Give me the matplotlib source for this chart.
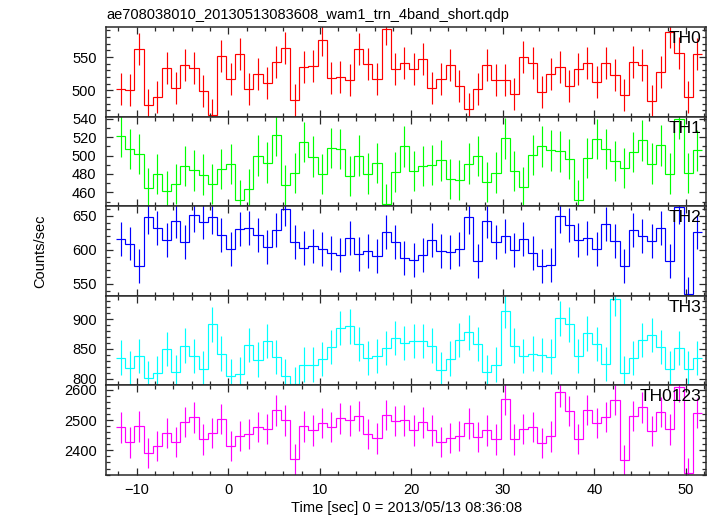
import numpy as np
import matplotlib
matplotlib.use("Agg")
import matplotlib.pyplot as plt
from matplotlib.ticker import MultipleLocator

plt.rcParams['font.family'] = ['Liberation Sans', 'DejaVu Sans']

# ---- data (1-s bins) ----
t_start = -12.25          # left edge of first bin [sec]
bin_width = 1.0

th0 = [501.5, 500.5, 561.5, 477.5, 489.5, 533, 503, 537.5, 533, 499, 463, 551.5,
       516.5, 554, 502, 524, 511, 542, 563, 485, 535, 536, 575, 519, 520.5, 515,
       561.5, 540, 516.5, 591.5, 532.5, 540.5, 532, 546.5, 503, 517.5, 538, 506.5,
       472, 502.5, 538, 515.5, 515, 495, 550.5, 540.5, 497.5, 525, 534.5, 506.5,
       532.5, 541.5, 512, 540.5, 522.5, 493, 543, 538, 484, 528, 588, 555.5, 490, 555]
th1 = [521, 507.2, 502, 464.6, 480, 461.3, 469.3, 488.4, 484, 479.4, 469, 485.2,
       491, 451.5, 463.5, 500, 492.4, 522, 467.8, 480.8, 515.2, 499, 480, 508.3,
       506.9, 477.6, 500, 480.5, 491.7, 447.2, 481.9, 510.1, 483, 488.8, 489.9,
       494.9, 474.3, 473.2, 491.3, 499.6, 471.4, 481.6, 518.8, 483, 465.6, 500.4,
       510.1, 505.8, 504.7, 496, 451.5, 497.5, 518.4, 506.9, 493.9, 486.3, 504,
       516.6, 491.3, 511.2, 480.5, 540.1, 480.8, 505.8]
th2 = [616.1, 609.3, 575.6, 648.8, 632.2, 614.6, 642.4, 611.7, 651.2, 641, 648.3,
       622.4, 601, 630.2, 632.2, 621.5, 604.4, 629.3, 660.5, 611.7, 602.9, 605.9,
       601.5, 594.6, 592.7, 617.6, 593.2, 599, 590.7, 626.3, 612.2, 588.3, 584.4,
       592.7, 614.6, 599, 596.6, 601.5, 647.8, 583.4, 642.4, 611.2, 620, 599.5,
       616.1, 595.6, 576.6, 578, 650.2, 637.1, 614.6, 617.6, 601.5, 637.6, 613.2,
       576.6, 629.3, 620.5, 612.7, 631.7, 583.4, 663.5, 535, 626.3]
th3 = [835.3, 817.8, 838.1, 800.8, 809.3, 850, 811, 855.6, 838.1, 816.7, 891.2,
       842.1, 804.2, 808.2, 856.8, 831.9, 863.6, 836.4, 804.2, 790.7, 823.4, 823.4,
       833.1, 853.4, 885.6, 887.9, 858.5, 834.7, 838.1, 851.7, 868.1, 859.6, 863.6,
       863.6, 855.6, 815, 833.6, 865.3, 877.7, 858.5, 811, 823.4, 914.4, 855.6,
       837.6, 842.1, 839.8, 837, 901.4, 891.2, 838.1, 876, 858.5, 824.6, 934.7,
       809.3, 834.7, 865.3, 873.7, 853.4, 816.7, 851.7, 816.7, 834.7]
th0123 = [2475.8, 2426.4, 2479.1, 2392.3, 2414.3, 2458.2, 2428.6, 2494.5, 2508.8,
          2436.3, 2457.1, 2503.3, 2415.4, 2447.3, 2454.9, 2478, 2471.4, 2531.9,
          2498.9, 2370.3, 2479.1, 2465.9, 2491.2, 2478, 2505.5, 2498.9, 2513.2,
          2454.9, 2439.6, 2517.6, 2496.7, 2498.9, 2465.9, 2492.3, 2465.9, 2428.6,
          2441.8, 2447.3, 2489, 2444, 2465.9, 2436.3, 2568.1, 2436.3, 2470.3, 2478,
          2425.3, 2446.2, 2593.4, 2530.8, 2438.5, 2534.1, 2490.1, 2511, 2565.9,
          2367, 2513.2, 2541.8, 2464.8, 2527.5, 2469.2, 2609.9, 2324.2, 2524.2]

# half-lengths of error bars (counts/sec)
err_th0, err_th1, err_th2, err_th3, err_th0123 = 24, 22, 25, 29, 50

labels = ["TH0", "TH1", "TH2", "TH3", "TH0123"]
title = "ae708038010_20130513083608_wam1_trn_4band_short.qdp"
xlabel = "Time [sec] 0 = 2013/05/13 08:36:08"
ylabel = "Counts/sec"

# ---- styling / layout ----
panels = [
    (th0, err_th0, "#ff0000", (460.5, 594.5), 50, 10),
    (th1, err_th1, "#00ff00", (444.7, 542.3), 20, 10),
    (th2, err_th2, "#0000ff", (532.2, 663.9), 50, 10),
    (th3, err_th3, "#00ffff", (788.4, 939.3), 50, 10),
    (th0123, err_th0123, "#ff00ff", (2318.7, 2614.3), 100, 20),
]

W, H = 717, 516
fig = plt.figure(figsize=(W / 100, H / 100), dpi=100)
left, right, top, bottom = 106.3 / W, 706 / W, 1 - 27.3 / H, 1 - 475 / H
gs = fig.add_gridspec(5, 1, left=left, right=right, top=top, bottom=bottom, hspace=0)

spine_c = "#2a2a2a"
for i, (vals, err, col, ylim, ymaj, ymin) in enumerate(panels):
    ax = fig.add_subplot(gs[i])
    vals = np.asarray(vals, dtype=float)
    n = len(vals)
    edges = t_start + bin_width * np.arange(n + 1)
    centers = 0.5 * (edges[:-1] + edges[1:])
    ax.stairs(vals, edges, baseline=None, color=col, lw=0.85)
    ax.errorbar(centers, vals, yerr=err, fmt='none', ecolor=col, elinewidth=0.85, capsize=0)
    ax.set_xlim(-13.33, 52.2)
    ax.set_ylim(*ylim)
    ax.xaxis.set_major_locator(MultipleLocator(10))
    ax.xaxis.set_minor_locator(MultipleLocator(2))
    ax.yaxis.set_major_locator(MultipleLocator(ymaj))
    ax.yaxis.set_minor_locator(MultipleLocator(ymin))
    ax.tick_params(which='both', direction='in', top=True, right=True, color=spine_c,
                   labelsize=10.5, width=0.9)
    ax.tick_params(which='major', length=5)
    ax.tick_params(which='minor', length=2.8)
    ax.tick_params(axis='y', pad=7)
    ax.tick_params(axis='x', pad=5.5)
    for s in ax.spines.values():
        s.set_color(spine_c)
        s.set_linewidth(1.1)
    if i < 4:
        ax.tick_params(labelbottom=False)
    ax.text(0.993, 0.955, labels[i], transform=ax.transAxes, ha='right', va='top',
            fontsize=12.5, color='black')

fig.text(left, 1 - 19 / H, title, ha='left', va='baseline', fontsize=10.5)
fig.text((left + right) / 2, 1 - 512 / H, xlabel, ha='center', va='baseline', fontsize=10.5)
fig.text(40 / W, (top + bottom) / 2, ylabel, rotation=90, ha='center', va='center', fontsize=10.5)

fig.savefig("out.png", dpi=100)
